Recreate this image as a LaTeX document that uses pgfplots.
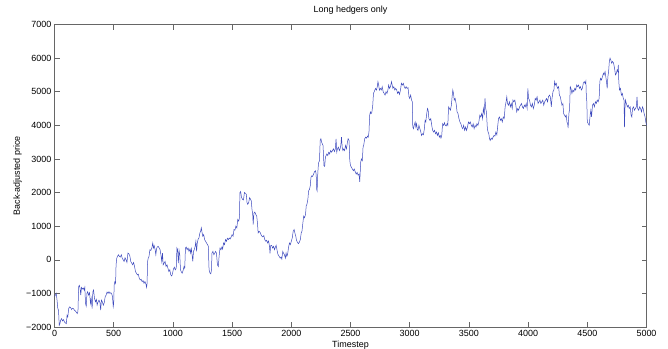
\documentclass[border=0pt]{standalone}
\usepackage{fontspec}
\setmainfont{Liberation Sans}
\usepackage{pgfplots}
\pgfplotsset{compat=1.18}
\definecolor{mlblue}{rgb}{0.24,0.29,0.74}
\begin{document}
\fontsize{9}{11}\selectfont
\begin{tikzpicture}
\begin{axis}[
  at={(54.5bp,22bp)}, anchor=south west,
  scale only axis, width=592bp, height=302.5bp,
  xmin=0, xmax=5000, ymin=-2000, ymax=7000,
  xtick={0,500,1000,1500,2000,2500,3000,3500,4000,4500,5000},
  xticklabels={0,500,1000,1500,2000,2500,3000,3500,4000,4500,5000},
  ytick={-2000,-1000,0,1000,2000,3000,4000,5000,6000,7000},
  yticklabels={−2000,−1000,0,1000,2000,3000,4000,5000,6000,7000},
  tick align=inside, tick pos=both,
  major tick length=5bp,
  axis line style={black!60},
  tick style={black!60, line width=0.5bp},
  every tick label/.append style={font=\fontsize{9}{11}\selectfont, text=black},
  title={Long hedgers only},
  title style={at={(axis description cs:0.5,1.0215)}, anchor=base, font=\fontsize{9}{11}\selectfont},
  xlabel={Timestep},
  xlabel style={at={(axis description cs:0.5,-0.0595)}, anchor=center, font=\fontsize{9}{11}\selectfont},
  ylabel={Back-adjusted price},
  ylabel style={at={(axis description cs:-0.0625,0.5)}, anchor=center, rotate=0, font=\fontsize{9}{11}\selectfont},
]
\addplot[mlblue, line width=0.5bp] coordinates {
(0,-1100) (8,-1050) (14,-1000) (20,-1150) (28,-1450) (34,-1500) (40,-1950) (46,-1900) (52,-1800) (60,-1750)
(68,-1820) (76,-1780) (84,-1850) (92,-1880) (100,-1900) (106,-1650) (112,-1700) (120,-1450) (128,-1400) (136,-1420)
(144,-1480) (152,-1440) (160,-1450) (168,-1500) (176,-1520) (184,-1560) (192,-1600) (198,-1540) (204,-800) (210,-760)
(216,-850) (222,-1050) (228,-820) (236,-870) (244,-840) (250,-900) (256,-820) (262,-1300) (268,-1380) (274,-1000)
(280,-950) (288,-1050) (296,-980) (304,-1300) (310,-1150) (318,-1450) (324,-950) (330,-900) (338,-1150) (346,-1250)
(354,-1180) (360,-1350) (368,-1250) (376,-1200) (384,-1280) (390,-1500) (396,-1200) (404,-1250) (412,-1350) (420,-1280)
(428,-1100) (436,-1050) (444,-960) (452,-1000) (460,-950) (468,-1000) (476,-980) (484,-1020) (490,-1100) (496,-1400)
(500,-1300) (504,-750) (510,-650) (516,-700) (520,-150) (526,50) (532,100) (540,150) (548,100) (556,80)
(564,150) (572,50) (580,0) (588,-50) (596,60) (604,0) (612,-80) (620,200) (628,180) (636,120)
(644,-50) (652,-100) (660,-150) (668,-80) (676,-200) (684,-350) (692,-400) (700,-450) (708,-430) (716,-550)
(724,-600) (732,-580) (740,-650) (748,-620) (756,-700) (764,-650) (772,-720) (778,-820) (782,-700) (786,-50)
(792,50) (798,100) (806,300) (814,280) (822,350) (830,500) (836,350) (842,420) (850,300) (856,150)
(862,330) (868,380) (876,400) (884,350) (892,300) (900,120) (906,-50) (912,200) (918,-150) (926,-100)
(934,-50) (942,-200) (950,-150) (958,-250) (966,-350) (974,-300) (982,-450) (990,-480) (996,-420) (1004,-280)
(1012,-220) (1020,-300) (1028,-250) (1034,350) (1040,300) (1046,-100) (1052,280) (1058,150) (1064,-300) (1070,-350)
(1078,-400) (1086,-320) (1094,-200) (1100,-250) (1106,350) (1112,380) (1120,300) (1128,350) (1136,250) (1144,320)
(1150,200) (1156,330) (1162,150) (1168,-50) (1174,250) (1180,300) (1188,400) (1194,550) (1200,250) (1206,500)
(1212,600) (1220,650) (1228,800) (1234,850) (1240,950) (1246,820) (1252,700) (1260,750) (1268,600) (1276,550)
(1284,500) (1292,450) (1300,400) (1304,-200) (1308,-350) (1314,-400) (1320,-420) (1326,-300) (1330,200) (1338,250)
(1346,150) (1354,200) (1360,250) (1368,200) (1376,-150) (1384,-200) (1390,100) (1398,350) (1406,300) (1414,380)
(1420,320) (1428,500) (1436,450) (1444,600) (1452,550) (1460,640) (1468,600) (1476,650) (1484,620) (1492,680)
(1500,750) (1508,700) (1516,900) (1524,880) (1532,1000) (1540,950) (1548,1200) (1556,1150) (1562,1250) (1566,2000)
(1572,2030) (1580,1850) (1588,1800) (1596,1780) (1604,2000) (1612,1980) (1620,1950) (1626,1700) (1632,1650) (1640,1700)
(1648,1850) (1656,1800) (1662,1750) (1668,1500) (1674,1350) (1678,1050) (1684,1380) (1692,1420) (1700,1350) (1708,1300)
(1714,1100) (1720,800) (1728,850) (1736,820) (1744,750) (1752,700) (1760,680) (1768,720) (1776,600) (1784,550)
(1792,580) (1800,500) (1808,560) (1816,400) (1820,190) (1826,420) (1834,430) (1842,350) (1850,400) (1858,300)
(1866,380) (1872,430) (1878,320) (1884,200) (1890,140) (1898,100) (1906,50) (1914,80) (1920,20) (1928,250)
(1934,200) (1942,150) (1950,50) (1956,200) (1962,100) (1968,150) (1976,350) (1984,500) (1992,450) (2000,550)
(2008,650) (2016,850) (2024,900) (2030,800) (2038,700) (2044,580) (2052,520) (2060,480) (2068,520) (2076,600)
(2084,800) (2090,850) (2098,1100) (2104,1300) (2112,1250) (2120,1350) (2126,1600) (2132,1650) (2140,1800) (2146,2050)
(2154,2100) (2160,2200) (2166,2450) (2172,2500) (2180,2480) (2188,2550) (2196,2620) (2204,2650) (2210,2550) (2214,2100)
(2218,2050) (2224,2600) (2230,2880) (2238,2950) (2244,3550) (2250,3600) (2256,3500) (2262,3450) (2268,3400) (2272,3100)
(2276,2800) (2282,2780) (2288,3050) (2294,3100) (2300,3150) (2308,3100) (2316,3200) (2324,3150) (2332,3250) (2340,3200)
(2348,3250) (2356,3300) (2364,3220) (2372,3300) (2378,3600) (2384,3200) (2390,3300) (2398,3350) (2406,3250) (2412,3300)
(2418,3400) (2424,3650) (2430,3350) (2436,3250) (2442,3300) (2450,3250) (2458,3400) (2466,3300) (2474,3500) (2480,3600)
(2488,3550) (2494,2950) (2500,2800) (2508,2750) (2516,2700) (2524,2650) (2532,2700) (2540,2620) (2548,2550) (2556,2600)
(2564,2520) (2572,2550) (2578,2320) (2582,2600) (2586,2900) (2592,3000) (2600,2950) (2606,3350) (2612,3420) (2620,3600)
(2628,3650) (2636,3620) (2644,3680) (2650,3650) (2656,3800) (2662,4300) (2668,4400) (2674,4350) (2680,4380) (2688,4600)
(2694,4950) (2700,5000) (2706,5050) (2712,5100) (2720,5050) (2726,5150) (2732,5300) (2738,5200) (2744,5050) (2752,5100)
(2760,5050) (2768,5150) (2776,5000) (2784,4950) (2792,4900) (2800,5000) (2808,4950) (2816,5050) (2822,5200) (2830,5100)
(2838,5150) (2846,5300) (2852,5200) (2858,5100) (2866,5150) (2874,5050) (2882,5100) (2890,5050) (2898,4950) (2906,5000)
(2914,4920) (2922,5050) (2930,5250) (2938,5200) (2946,5250) (2954,5150) (2962,5100) (2970,5150) (2978,5100) (2986,5120)
(2994,4850) (3000,4800) (3008,4900) (3016,4750) (3022,4700) (3026,3950) (3032,3900) (3038,4000) (3046,4100) (3052,3950)
(3058,4050) (3064,3880) (3070,3850) (3078,4000) (3086,3900) (3094,3800) (3100,3700) (3108,3750) (3116,3720) (3124,3900)
(3130,4150) (3136,4100) (3142,4300) (3150,4500) (3156,4450) (3162,4200) (3170,4150) (3178,4200) (3186,4000) (3194,3850)
(3202,3800) (3210,3850) (3218,3750) (3226,3800) (3234,3700) (3242,3780) (3250,3650) (3258,3700) (3264,3620) (3270,3680)
(3278,4050) (3286,4000) (3294,4080) (3300,4000) (3308,3980) (3316,4050) (3322,4000) (3328,4550) (3336,4500) (3344,4450)
(3352,4600) (3358,4850) (3364,5050) (3370,4950) (3376,4750) (3384,4800) (3392,4650) (3400,4400) (3408,4350) (3416,4200)
(3424,4100) (3432,4050) (3440,3950) (3448,3900) (3456,4000) (3464,3850) (3472,3950) (3480,3850) (3488,3950) (3496,4100)
(3504,4050) (3512,4100) (3520,4000) (3528,3950) (3536,4050) (3544,3900) (3552,4000) (3560,3950) (3568,4050) (3576,4000)
(3584,4100) (3592,4300) (3600,4250) (3608,4350) (3616,4200) (3622,4500) (3630,4350) (3636,4800) (3642,4500) (3648,4400)
(3656,3900) (3662,3800) (3668,3750) (3674,3600) (3680,3550) (3688,3620) (3696,3580) (3704,3650) (3712,3700) (3720,3680)
(3728,3800) (3736,3720) (3744,4000) (3750,4200) (3758,4250) (3766,4150) (3774,4200) (3782,4100) (3790,4250) (3798,4200)
(3806,4550) (3814,4700) (3820,4850) (3826,4650) (3834,4600) (3842,4700) (3850,4550) (3858,4650) (3866,4500) (3872,4750)
(3880,4700) (3888,4750) (3896,4600) (3904,4400) (3912,4500) (3920,4450) (3928,4550) (3936,4600) (3944,4650) (3952,4550)
(3960,4500) (3968,4600) (3976,4550) (3984,4650) (3992,4500) (3998,5100) (4004,4800) (4012,4750) (4020,4600) (4028,4550)
(4036,4650) (4044,4500) (4052,4600) (4060,4800) (4068,4750) (4076,4850) (4084,4650) (4092,4700) (4100,4750) (4108,4650)
(4116,4700) (4124,4750) (4132,4600) (4140,4700) (4148,4750) (4156,4800) (4164,4700) (4172,4850) (4180,4900) (4188,4850)
(4196,4550) (4202,4800) (4210,5000) (4218,5050) (4224,5300) (4230,5200) (4238,5250) (4244,5150) (4250,5100) (4258,5150)
(4264,4900) (4272,4850) (4280,4700) (4286,4600) (4294,4650) (4300,4350) (4308,4300) (4316,4250) (4322,4300) (4328,4100)
(4334,4050) (4338,3920) (4342,4200) (4346,4400) (4350,4450) (4356,5150) (4362,5100) (4370,4950) (4378,5050) (4386,5000)
(4394,5100) (4402,5050) (4410,5200) (4418,5150) (4426,5200) (4434,5100) (4442,5150) (4450,5050) (4458,5100) (4466,5250)
(4474,5300) (4482,5250) (4488,5320) (4492,4850) (4496,4700) (4500,4100) (4508,4050) (4516,4000) (4524,4300) (4530,4450)
(4536,4250) (4544,4600) (4552,4650) (4560,4550) (4568,4700) (4576,4650) (4584,4750) (4592,4700) (4600,4800) (4606,5300)
(4612,5400) (4620,5350) (4628,5450) (4636,5550) (4642,5500) (4650,5600) (4656,5450) (4662,5300) (4668,5100) (4674,5450)
(4680,5600) (4686,5900) (4692,6000) (4698,5950) (4706,5850) (4714,5900) (4722,5850) (4730,5700) (4738,5500) (4746,5550)
(4752,5650) (4758,5600) (4762,5800) (4766,5300) (4772,5050) (4780,5100) (4788,4900) (4796,4950) (4804,4800) (4810,4750)
(4814,3950) (4818,4500) (4822,4750) (4830,4650) (4838,4550) (4846,4600) (4854,4500) (4862,4550) (4870,4300) (4876,4250)
(4882,4500) (4890,4550) (4898,4450) (4906,4500) (4914,4550) (4920,4850) (4926,4500) (4934,4450) (4942,4550) (4950,4500)
(4958,4400) (4966,4550) (4972,4500) (4980,4350) (4988,4250) (4994,4100) (5000,4000)
};
\end{axis}
\pgfresetboundingbox
\useasboundingbox (0,0) rectangle (668bp,349bp);
\end{tikzpicture}
\end{document}
